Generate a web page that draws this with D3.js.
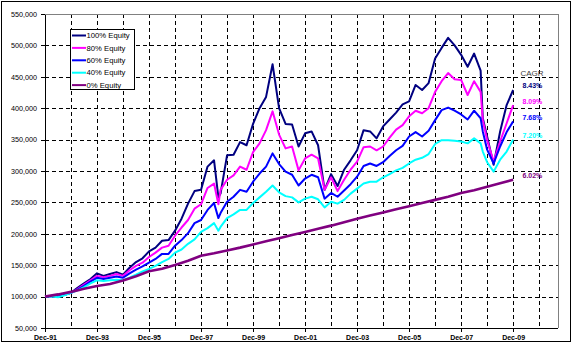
<!DOCTYPE html>
<html>
<head>
<meta charset="utf-8">
<script src="https://cdn.jsdelivr.net/npm/d3@7"></script>
<style>
  body { margin: 0; background: #fff; }
  svg { display: block; }
  text { font-family: "Liberation Sans", Arial, sans-serif; }
</style>
</head>
<body>
<svg id="chart" width="576" height="349"></svg>
<script>
// Month offsets from Dec-91 for each observation of the balanced portfolios
const months = [0,3,6,9,12,15,18,21,24,27,30,33,36,39,42,45,48,51,54,57,60,63,66,69,72,75,78,
  80,
  81,84,87,90,93,96,99,102,105,108,111,114,117,120,123,126,129,132,135,138,141,144,147,150,
  153,156,159,162,165,168,171,174,177,180,183,186,189,192,195,198,201,
  202,
  204,207,210,213,216];

// Growth of 100,000 (values in thousands)
const equity100 = [
  100,101,100,103,106,114,121,128,137,133,
  136,139,135,146,155,161,172,178,189,190,
  205,224,248,268,270,307,317,
  258,
  264,325,326,346,341,375,400,418,470,400,
  375,374,339,360,363,341,270,295,276,302,
  317,333,365,363,352,371,382,393,406,411,
  437,429,440,479,496,512,500,485,466,487,
  460,
  384,
  355,310,363,405,429];

const equity80 = [
  100,101,100,103,106,112,119,126,133,131,
  133,136,133,142,149,154,163,170,178,181,
  197,210,222,240,247,273,280,
  247,
  270,286,293,307,302,330,344,365,395,358,
  336,339,301,320,326,320,270,290,268,286,
  302,315,338,339,333,339,353,366,373,387,
  396,392,400,426,443,456,446,445,421,443,
  426,
  381,
  349,315,347,376,405];

const equity60 = [
  100,101,100,103,106,111,117,124,130,128,
  130,132,130,137,143,148,154,160,168,168,
  181,190,201,217,222,238,249,
  225,
  233,251,259,270,267,283,296,307,328,311,
  299,294,277,288,294,290,256,265,259,269,
  279,291,308,312,308,314,324,333,340,355,
  362,355,364,381,397,401,396,390,382,396,
  384,
  363,
  334,312,339,362,379];

const equity40 = [
  100,100,99,102,106,110,115,121,126,125,
  126,127,126,130,135,140,144,149,155,160,
  170,175,184,191,203,209,217,
  205,
  211,225,231,238,238,249,258,267,277,266,
  260,258,250,256,259,255,242,251,248,254,
  264,272,280,283,283,290,295,301,305,312,
  318,321,327,343,349,349,348,347,344,352,
  344,
  331,
  314,299,318,331,350];

// 0% equity is read at half-year steps
const bondMonths = [0,6,12,18,24,30,36,42,48,54,60,66,72,78,84,90,96,102,108,114,120,
  126,132,138,144,150,156,162,168,174,180,186,192,198,204,210,216];
const equity0 = [100,103.5,107.5,112.5,117,120,125.5,132.5,140.5,144.5,150.5,157,165,169,
  173.5,178,183,188,193,198,203,208,213,218.5,224,229,234,239,244,249,254,259,265,
  269.5,275,280.5,286];

const seriesNames = ["100% Equity","80% Equity","60% Equity","40% Equity","0% Equity"];
const seriesColors = ["#000080","#FF00FF","#0000FF","#00FFFF","#800080"];
const cagrLabels = ["8.43%","8.09%","7.68%","7.20%","6.02%"];

const tickMonths = [0,24,48,72,96,120,144,168,192,216];
const tickLabels = ["Dec-91","Dec-93","Dec-95","Dec-97","Dec-99","Dec-01","Dec-03","Dec-05","Dec-07","Dec-09"];
const gridMonths = [12,24,36,48,60,72,84,96,108,120,132,144,156,168,180,192,204,216,228];
const yTicks = [50,100,150,200,250,300,350,400,450,500,550];

const svg = d3.select("#chart");

// outer chart frame
svg.append("rect")
  .attr("x", 1.5).attr("y", 1.5).attr("width", 569).attr("height", 340)
  .attr("fill", "#fff").attr("stroke", "#000").attr("stroke-width", 1);

const x = d3.scaleLinear().domain([0, 236.7]).range([45, 558]);
const y = d3.scaleLinear().domain([50, 550]).range([328, 14]);

const px = v => Math.round(v) + 0.5;

// dashed gridlines
const grid = svg.append("g").attr("stroke", "#000").attr("stroke-dasharray", "4,3")
  .attr("shape-rendering", "crispEdges");
grid.selectAll("line.h").data(yTicks.slice(1, -1)).join("line")
  .attr("class", "h")
  .attr("x1", x(0)).attr("x2", x(236.7))
  .attr("y1", d => px(y(d))).attr("y2", d => px(y(d)));
grid.selectAll("line.v").data(gridMonths).join("line")
  .attr("class", "v")
  .attr("y1", y(550)).attr("y2", y(50))
  .attr("x1", d => px(x(d))).attr("x2", d => px(x(d)));

// plot-area border (top and right)
svg.append("path")
  .attr("d", `M${x(0)},${px(y(550))}H${px(x(236.7))}V${y(50)}`)
  .attr("fill", "none").attr("stroke", "#808080").attr("shape-rendering", "crispEdges");

// axes
const yAxis = d3.axisLeft(y).tickValues(yTicks).tickSize(4).tickSizeOuter(0).tickPadding(4)
  .tickFormat(d => d3.format(",")(d * 1000));
const gy = svg.append("g").attr("transform", `translate(${px(x(0)) - 0.5},0)`).call(yAxis);
gy.selectAll("text").attr("font-size", "7.2px").attr("fill", "#000")
  .attr("font-family", '"Liberation Sans", Arial, sans-serif');

const xAxis = d3.axisBottom(x).tickValues(tickMonths).tickSize(4).tickSizeOuter(0).tickPadding(3)
  .tickFormat((d, i) => tickLabels[i]);
const gx = svg.append("g").attr("transform", `translate(0,${px(y(50)) - 0.5})`).call(xAxis);
gx.selectAll("text").attr("font-size", "7px").attr("font-weight", "bold").attr("fill", "#000")
  .attr("font-family", '"Liberation Sans", Arial, sans-serif');
[gx, gy].forEach(g => {
  g.attr("shape-rendering", "crispEdges");
  g.select(".domain").attr("stroke", "#000");
  g.selectAll(".tick line").attr("stroke", "#000");
});
gx.select(".domain").attr("d", `M${x(0)},0.5H${x(236.7)}`);

// portfolio lines
const line = (xs) => d3.line().x((d, i) => x(xs[i])).y(d => y(d));
const allSeries = [
  { v: equity100, m: months, w: 2 },
  { v: equity80, m: months, w: 2 },
  { v: equity60, m: months, w: 2 },
  { v: equity40, m: months, w: 2 },
  { v: equity0, m: bondMonths, w: 2.6 }
];
allSeries.forEach((s, i) => {
  svg.append("path")
    .attr("d", line(s.m)(s.v))
    .attr("fill", "none")
    .attr("stroke", seriesColors[i])
    .attr("stroke-width", s.w)
    .attr("stroke-linejoin", "round");
});

// CAGR annotations at the end of each line
svg.append("text").attr("x", 520.5).attr("y", 72.7).attr("dy", "0.35em")
  .attr("font-size", "8px").attr("fill", "#404040").text("CAGR");
allSeries.forEach((s, i) => {
  svg.append("text")
    .attr("x", 522.5)
    .attr("y", y(s.v[s.v.length - 1]) - 4)
    .attr("dy", "0.35em")
    .attr("font-size", "7px").attr("font-weight", "bold")
    .attr("fill", seriesColors[i])
    .text(cagrLabels[i]);
});

// legend
const lg = svg.append("g");
lg.append("rect").attr("x", 70.5).attr("y", 29.5).attr("width", 64).attr("height", 60)
  .attr("fill", "#fff").attr("stroke", "#000").attr("shape-rendering", "crispEdges");
seriesNames.forEach((name, i) => {
  const yy = 35.5 + i * 12.4;
  lg.append("line").attr("x1", 72).attr("x2", 86).attr("y1", yy).attr("y2", yy)
    .attr("stroke", seriesColors[i]).attr("stroke-width", 2);
  lg.append("text").attr("x", 86.5).attr("y", yy).attr("dy", "0.35em")
    .attr("font-size", "7.7px").attr("fill", "#000").text(name);
});
</script>
</body>
</html>
